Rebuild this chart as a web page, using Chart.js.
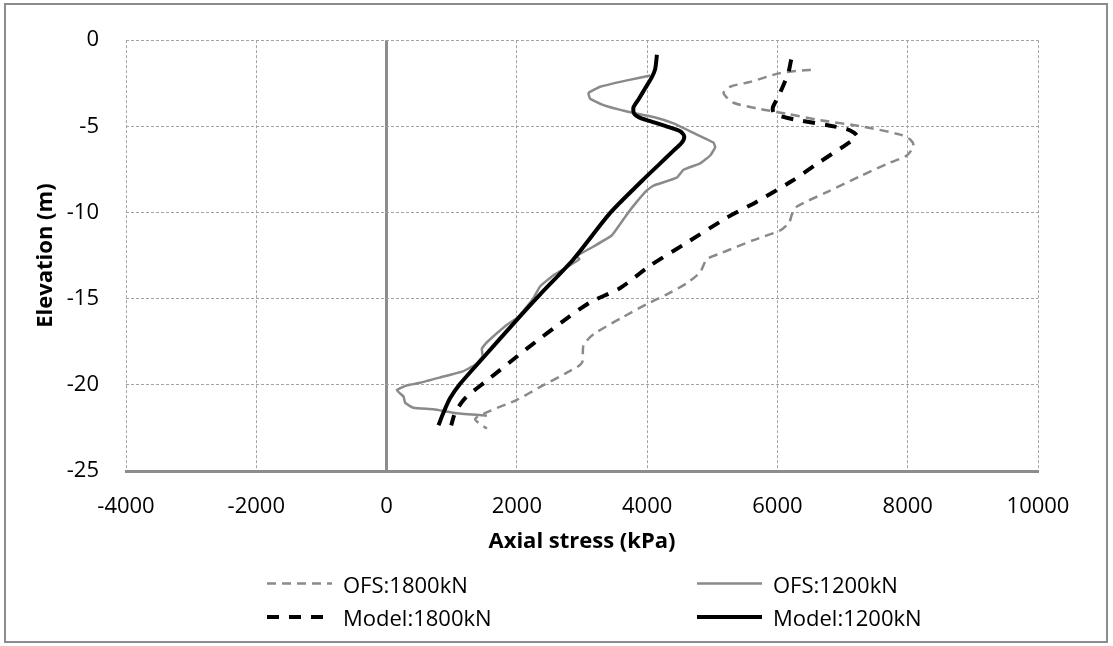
<!DOCTYPE html>
<html>
<head>
<meta charset="utf-8">
<script src="https://cdn.jsdelivr.net/npm/chart.js@4"></script>
<style>
  html, body { margin: 0; padding: 0; background: #fff; }
  canvas { display: block; }
</style>
</head>
<body>
<canvas id="stressChart" width="1113" height="646"></canvas>
<script>
// axial stress (kPa) vs elevation (m)
const ofs1800Stress = [6513, 6042, 5582, 5275, 5172, 5326, 5735, 6145, 6656, 7321, 7885, 8038, 8089, 7987, 7700, 7270, 6759, 6299, 6222, 6180, 6042, 5633, 5147, 4917, 4815, 4610, 4303, 3996, 3637, 3177, 3023, 2998, 2768, 2358, 2000, 1590, 1360, 1540];
const ofs1800Elev = [-1.71, -1.91, -2.42, -2.70, -3.07, -3.63, -3.99, -4.27, -4.64, -5.02, -5.48, -5.76, -6.13, -6.69, -7.15, -7.89, -8.82, -9.65, -10.11, -10.58, -11.04, -11.60, -12.34, -12.71, -13.45, -14.10, -14.75, -15.31, -16.05, -17.07, -17.71, -18.73, -19.29, -20.12, -20.87, -21.51, -21.98, -22.54];

const ofs1200Stress = [4047, 3689, 3279, 3100, 3126, 3330, 3689, 4098, 4405, 4712, 5018, 5044, 4968, 4815, 4558, 4456, 4098, 3996, 3843, 3689, 3459, 3177, 2921, 2960, 2768, 2562, 2358, 2250, 2010, 1847, 1540, 1463, 1473, 1360, 1181, 823, 516, 312, 158, 260, 286, 413, 720, 1079, 1540];
const ofs1200Elev = [-2.05, -2.33, -2.70, -3.07, -3.40, -3.77, -4.14, -4.46, -4.83, -5.38, -5.94, -6.22, -6.69, -7.15, -7.52, -7.98, -8.44, -8.72, -9.37, -10.11, -11.32, -11.97, -12.52, -12.71, -13.17, -13.64, -14.28, -15.0, -16.1, -16.51, -17.53, -17.90, -18.36, -18.83, -19.20, -19.57, -19.88, -20.03, -20.31, -20.68, -21.05, -21.33, -21.42, -21.65, -21.79];

const model1800Stress = [6211, 6170, 6093, 6017, 5930, 5940, 6017, 6247, 6810, 7066, 7168, 7220, 7066, 6656, 6222, 5684, 5224, 4558, 4047, 3586, 3126, 2768, 2154, 1540, 1207, 1053, 992];
const model1800Elev = [-1.12, -1.86, -2.60, -3.25, -3.90, -4.22, -4.37, -4.59, -4.96, -5.16, -5.35, -5.57, -6.03, -7.05, -8.17, -9.37, -10.30, -11.87, -13.08, -14.38, -15.21, -16.14, -17.90, -19.75, -20.77, -21.61, -22.35];

const model1200Stress = [4150, 4123, 4073, 3970, 3867, 3790, 3801, 3893, 4047, 4303, 4507, 4569, 4533, 4405, 4200, 3919, 3433, 2869, 2358, 2000, 1411, 1130, 976, 874, 797];
const model1200Elev = [-0.85, -1.68, -2.14, -2.79, -3.44, -3.90, -4.27, -4.51, -4.70, -5.01, -5.29, -5.57, -5.94, -6.41, -7.15, -8.17, -10.02, -12.71, -14.75, -16.23, -18.73, -19.94, -20.77, -21.61, -22.35];

const seriesLabels = ["OFS:1800kN", "OFS:1200kN", "Model:1800kN", "Model:1200kN"];
const xTicks = { min: -4000, max: 10000, step: 2000 };
const yTicks = { min: -25, max: 0, step: 5 };

const FONT = "'Open Sans', 'Liberation Sans', sans-serif";
const GRID = "#a3a3a3";
const AXIS = "#8c8c8c";

function toPoints(xs, ys) {
  return xs.map((x, i) => ({ x: x, y: ys[i] }));
}

// white background + outer frame
const frame = {
  id: "frame",
  beforeDraw(chart) {
    const c = chart.ctx;
    c.save();
    c.fillStyle = "#fff";
    c.fillRect(0, 0, chart.width, chart.height);
    c.strokeStyle = AXIS;
    c.lineWidth = 2;
    c.strokeRect(5, 4, 1102, 638);
    c.restore();
  },
};

// 2 x 2 legend like the excel one
const gridLegend = {
  id: "gridLegend",
  afterDraw(chart) {
    const c = chart.ctx;
    const slots = [[267, 583.5], [697, 583.5], [267, 617], [697, 617]];
    chart.data.datasets.forEach((ds, i) => {
      const [x, y] = slots[i];
      c.save();
      c.strokeStyle = ds.borderColor;
      c.lineWidth = ds.borderWidth;
      c.setLineDash(ds.borderDash || []);
      c.beginPath();
      c.moveTo(x, y);
      c.lineTo(x + 65, y);
      c.stroke();
      c.setLineDash([]);
      c.fillStyle = "#000";
      c.font = "22px " + FONT;
      c.textBaseline = "middle";
      c.fillText(ds.label, x + 76, y + 3);
      c.restore();
    });
  },
};

const isZero = (c) => c.tick && c.tick.value === 0;
const plain = (v) => String(v);

new Chart(document.getElementById("stressChart").getContext("2d"), {
  type: "scatter",
  data: {
    datasets: [
      {
        label: seriesLabels[0],
        data: toPoints(ofs1800Stress, ofs1800Elev),
        borderColor: "#8a8a8a",
        borderWidth: 2.5,
        borderDash: [9, 6],
        order: 3,
      },
      {
        label: seriesLabels[1],
        data: toPoints(ofs1200Stress, ofs1200Elev),
        borderColor: "#8a8a8a",
        borderWidth: 2.5,
        tension: 0.12,
        order: 2,
      },
      {
        label: seriesLabels[2],
        data: toPoints(model1800Stress, model1800Elev),
        borderColor: "#000",
        borderWidth: 4,
        borderDash: [12, 10],
        order: 1,
      },
      {
        label: seriesLabels[3],
        data: toPoints(model1200Stress, model1200Elev),
        borderColor: "#000",
        borderWidth: 4,
        order: 0,
      },
    ],
  },
  options: {
    responsive: false,
    animation: false,
    showLine: true,
    elements: {
      point: { radius: 0, hoverRadius: 0 },
      line: { tension: 0.25, fill: false, borderCapStyle: "butt", borderJoinStyle: "round" },
    },
    layout: { padding: { left: 0, right: 75, top: 21.5, bottom: 90 } },
    plugins: {
      legend: { display: false },
      tooltip: { enabled: false },
    },
    scales: {
      x: {
        type: "linear",
        min: xTicks.min,
        max: xTicks.max,
        ticks: {
          stepSize: xTicks.step,
          padding: 23,
          maxRotation: 0,
          color: "#000",
          font: { family: FONT, size: 22 },
          callback: plain,
        },
        grid: {
          drawTicks: false,
          color: (c) => (isZero(c) ? AXIS : GRID),
          lineWidth: (c) => (isZero(c) ? 3 : 1),
        },
        border: {
          display: true,
          color: AXIS,
          width: 3,
          dash: (c) => (isZero(c) ? [] : [3, 2]),
        },
        title: {
          display: true,
          text: "Axial stress (kPa)",
          color: "#000",
          font: { family: FONT, size: 22, weight: "bold" },
          padding: { top: 0, bottom: 1 },
        },
        afterFit(scale) {
          scale.height = 85;
        },
      },
      y: {
        type: "linear",
        min: yTicks.min,
        max: yTicks.max,
        ticks: {
          stepSize: yTicks.step,
          padding: 27,
          color: "#000",
          font: { family: FONT, size: 22 },
          callback: plain,
        },
        grid: { drawTicks: false, color: GRID, lineWidth: 1 },
        border: { display: false, dash: [3, 2] },
        title: {
          display: true,
          text: "Elevation (m)",
          color: "#000",
          font: { family: FONT, size: 22, weight: "bold" },
          padding: { top: 33, bottom: 0 },
        },
        afterFit(scale) {
          scale.width = 126;
        },
      },
    },
  },
  plugins: [frame, gridLegend],
});
</script>
</body>
</html>
